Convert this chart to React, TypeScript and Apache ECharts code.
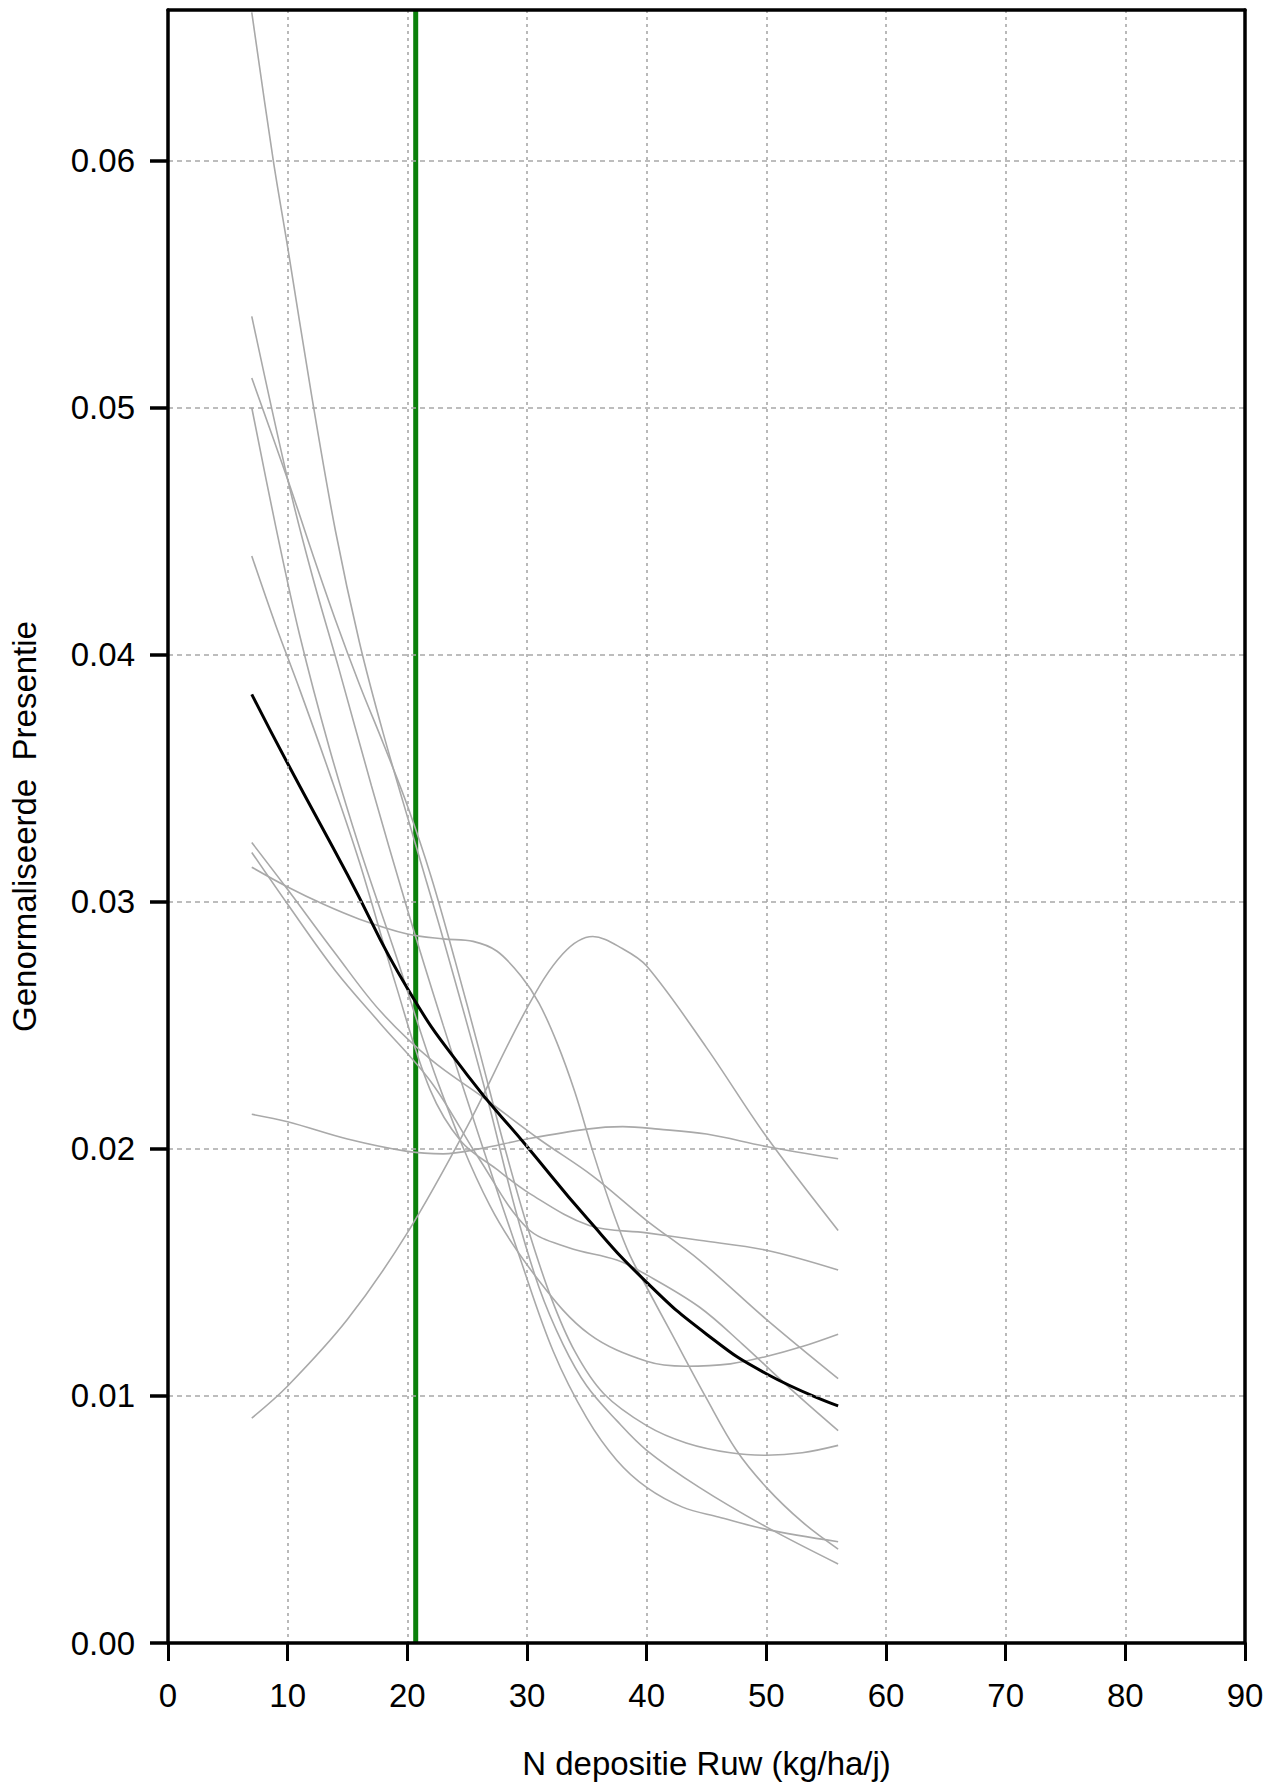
import React, { useEffect, useRef } from "react";
import * as echarts from "echarts";

// Axis ticks
const xTicks = [0, 10, 20, 30, 40, 50, 60, 70, 80, 90];
const yTicks = [0, 0.01, 0.02, 0.03, 0.04, 0.05, 0.06];
const yMax = 0.0661;

// Critical deposition marker (kg/ha/j)
const criticalDeposition = 20.7;

// Mean response curve
const meanCurve: [number, number][] = [
  [7, 0.0384], [10, 0.0356], [15, 0.0311], [20, 0.0265], [25, 0.023], [30, 0.0201],
  [35, 0.0172], [40, 0.0146], [45, 0.0125], [50, 0.0109], [56, 0.0096],
];

// Individual species response curves
const curveFlat: [number, number][] = [
  [7, 0.0214], [10, 0.0211], [15, 0.0204], [20, 0.0199], [23, 0.0198], [26, 0.02],
  [30, 0.0204], [35, 0.0208], [38, 0.0209], [41, 0.0208], [45, 0.0206], [50, 0.0201],
  [56, 0.0196],
];
const curveHump: [number, number][] = [
  [7, 0.0091], [10, 0.0104], [15, 0.0131], [20, 0.0166], [25, 0.0209], [30, 0.0257],
  [33, 0.0279], [35.5, 0.0286], [38, 0.0281], [40, 0.0274], [45, 0.0241], [50, 0.0205],
  [56, 0.0167],
];
const curvePlateau: [number, number][] = [
  [7, 0.0314], [10, 0.0306], [13, 0.0299], [16, 0.0293], [20, 0.0287], [23, 0.0285],
  [25.5, 0.0284], [27.5, 0.028], [29.5, 0.027], [31, 0.0259], [32.5, 0.0243], [34, 0.0223],
  [35.5, 0.0199], [37, 0.0177], [38.5, 0.0158], [40, 0.0144], [42, 0.0126], [45, 0.0099],
  [47.5, 0.0078], [50, 0.0063], [53, 0.0049], [56, 0.0038],
];
const curveSteepA: [number, number][] = [
  [7, 0.066], [8.8, 0.06], [10, 0.0565], [12, 0.0505], [14, 0.045], [16, 0.0405],
  [18, 0.0368], [20.7, 0.0323], [23, 0.0285], [26.6, 0.0222], [29, 0.0176], [31, 0.0144],
  [33, 0.0121], [35, 0.0104], [37.5, 0.009], [40, 0.0078], [44.4, 0.0063], [50, 0.0047],
  [56, 0.0032],
];
const curveSteepB: [number, number][] = [
  [7, 0.0537], [10, 0.0471], [12, 0.0433], [14.3, 0.0394], [17, 0.0347], [20, 0.0297],
  [23, 0.025], [26, 0.0205], [29.4, 0.0156], [32.2, 0.0118], [35, 0.0091], [37.5, 0.0074],
  [40, 0.0063], [43, 0.0055], [46, 0.0051], [50, 0.0046], [56, 0.0041],
];
const curveSteepC: [number, number][] = [
  [7, 0.0512], [10, 0.0471], [12, 0.0442], [14, 0.0414], [16, 0.0388], [18, 0.0364],
  [20, 0.0339], [22, 0.031], [24, 0.0276], [26, 0.024], [28, 0.0203], [30, 0.0169],
  [32, 0.014], [34, 0.0118], [36.4, 0.0101], [40, 0.0088], [43.3, 0.0081], [47, 0.0077],
  [50, 0.0076], [53, 0.0077], [56, 0.008],
];
const curveSteepD: [number, number][] = [
  [7, 0.05], [9, 0.0452], [11, 0.0408], [13.5, 0.0362], [16, 0.0322], [19, 0.0279],
  [22.7, 0.0225], [26.9, 0.0177], [31.1, 0.0146], [35.2, 0.0125], [40, 0.0114],
  [43.3, 0.0112], [47, 0.0113], [50, 0.0116], [53, 0.012], [56, 0.0125],
];
const curveSteepE: [number, number][] = [
  [7, 0.044], [9, 0.0412], [11, 0.0386], [13.5, 0.0352], [16, 0.0316], [19, 0.0267],
  [21.9, 0.0224], [24.5, 0.0203], [27.4, 0.0192], [30.2, 0.0182], [35.2, 0.0169],
  [40, 0.0166], [44.4, 0.0163], [50, 0.0159], [56, 0.0151],
];
const curveLinearA: [number, number][] = [
  [7, 0.0324], [10, 0.0305], [14, 0.0279], [17.7, 0.0256], [22, 0.0236], [26.3, 0.0221],
  [31, 0.0204], [35.5, 0.0189], [40, 0.0171], [44.4, 0.0155], [50, 0.0131], [56, 0.0107],
];
const curveShoulder: [number, number][] = [
  [7, 0.032], [10, 0.0299], [14, 0.0272], [17.7, 0.0251], [22, 0.0227], [26, 0.0196],
  [30, 0.0168], [33.5, 0.016], [37.5, 0.0155], [40, 0.0149], [44.4, 0.0136], [48, 0.0121],
  [52, 0.0103], [56, 0.0086],
];

const speciesCurves = [
  curveFlat, curveHump, curvePlateau, curveSteepA, curveSteepB,
  curveSteepC, curveSteepD, curveSteepE, curveLinearA, curveShoulder,
];

const FONT = "Liberation Sans, Arial, Helvetica, sans-serif";

export default function App() {
  const ref = useRef<HTMLDivElement>(null);

  useEffect(() => {
    if (!ref.current) return;
    const chart = echarts.init(ref.current, null, { renderer: "svg" });

    const frameLine = { show: true, onZero: false, lineStyle: { color: "#000", width: 3.5 } };

    chart.setOption({
      animation: false,
      backgroundColor: "#ffffff",
      textStyle: { fontFamily: FONT },
      grid: {
        left: 168,
        right: 33,
        top: 10,
        bottom: 142,
      },
      xAxis: [
        {
          type: "value",
          position: "bottom",
          min: 0,
          max: 90,
          interval: 10,
          name: "N depositie Ruw (kg/ha/j)",
          nameLocation: "middle",
          nameGap: 104,
          nameTextStyle: { fontSize: 33, color: "#000", fontFamily: FONT },
          axisLine: frameLine,
          axisTick: { show: true, inside: false, length: 18, lineStyle: { color: "#000", width: 3 } },
          axisLabel: {
            fontSize: 33,
            color: "#000",
            margin: 36,
            fontFamily: FONT,
            customValues: xTicks,
          },
          splitLine: {
            show: true,
            lineStyle: { color: "#a8a8a8", width: 1.6, type: [3, 4] },
          },
          z: 5,
        },
        {
          // top edge of the frame
          type: "value",
          position: "top",
          min: 0,
          max: 90,
          interval: 10,
          axisLine: frameLine,
          axisTick: { show: false },
          axisLabel: { show: false },
          splitLine: { show: false },
          z: 5,
        },
      ],
      yAxis: [
        {
          type: "value",
          position: "left",
          min: 0,
          max: yMax,
          interval: 0.01,
          name: "Genormaliseerde  Presentie",
          nameLocation: "middle",
          nameGap: 127,
          nameTextStyle: { fontSize: 33, color: "#000", fontFamily: FONT },
          axisLine: frameLine,
          axisTick: {
            show: true,
            inside: false,
            length: 18,
            lineStyle: { color: "#000", width: 3.5 },
            customValues: yTicks,
          },
          axisLabel: {
            fontSize: 33,
            color: "#000",
            margin: 33,
            fontFamily: FONT,
            customValues: yTicks,
            formatter: (v: number) => v.toFixed(2),
          },
          splitLine: {
            show: true,
            lineStyle: { color: "#a8a8a8", width: 1.6, type: [5, 4] },
          },
          z: 5,
        },
        {
          // right edge of the frame
          type: "value",
          position: "right",
          min: 0,
          max: yMax,
          interval: 0.01,
          axisLine: frameLine,
          axisTick: { show: false },
          axisLabel: { show: false },
          splitLine: { show: false },
          z: 5,
        },
      ],
      series: [
        {
          type: "line",
          name: "kritische depositie",
          data: [
            [criticalDeposition, 0],
            [criticalDeposition, yMax],
          ],
          symbol: "none",
          silent: true,
          z: 1,
          lineStyle: { color: "#0a800a", width: 5 },
        },
        ...speciesCurves.map((pts, i) => ({
          type: "line",
          name: "soort " + (i + 1),
          data: pts,
          symbol: "none",
          smooth: 0.35,
          silent: true,
          z: 2,
          lineStyle: { color: "#a9a9a9", width: 1.6 },
        })),
        {
          type: "line",
          name: "gemiddelde",
          data: meanCurve,
          symbol: "none",
          smooth: 0.5,
          silent: true,
          z: 3,
          lineStyle: { color: "#000", width: 3 },
        },
      ],
    });

    return () => chart.dispose();
  }, []);

  return (
    <div
      ref={ref}
      style={{
        position: "fixed",
        left: 0,
        top: 0,
        width: 1278,
        height: 1785,
        background: "#fff",
      }}
    />
  );
}
